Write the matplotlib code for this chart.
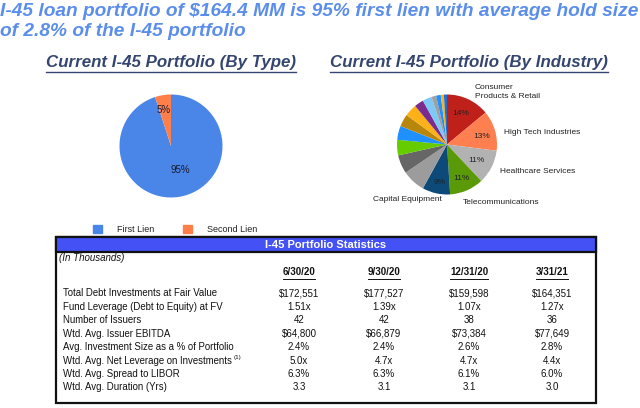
import matplotlib
matplotlib.use("Agg")
import matplotlib.pyplot as plt
from matplotlib.patches import Rectangle
from matplotlib.lines import Line2D

plt.rcParams['font.family'] = ['Liberation Sans', 'DejaVu Sans']

# data
type_labels = ["First Lien", "Second Lien"]
type_values = [95, 5]
type_colors = ["#4A86E8", "#FF7F4A"]

industry_values = [14, 13, 11, 11, 9, 7.5, 6, 5, 4.5, 4, 4, 3, 3, 1.5, 1.5, 1, 1]
industry_colors = ["#C0201A", "#FF7F50", "#B2B2B2", "#5A9A08", "#0D4A7A",
                   "#9C9C9C", "#666666", "#66CC00", "#1E90FF", "#B8860B",
                   "#FBB117", "#7B2A8F", "#7EC8F8", "#A0A0A0", "#1E90FF",
                   "#FBB117", "#1E6FD0"]
industry_pct = ["14%", "13%", "11%", "11%", "9%"]
industry_names = ["Consumer\nProducts & Retail", "High Tech Industries",
                  "Healthcare Services", "Telecommunications", "Capital Equipment"]

dates = ["6/30/20", "9/30/20", "12/31/20", "3/31/21"]
row_labels = ["Total Debt Investments at Fair Value",
              "Fund Leverage (Debt to Equity) at FV",
              "Number of Issuers",
              "Wtd. Avg. Issuer EBITDA",
              "Avg. Investment Size as a % of Portfolio",
              "Wtd. Avg. Net Leverage on Investments",
              "Wtd. Avg. Spread to LIBOR",
              "Wtd. Avg. Duration (Yrs)"]
row_notes = ["", "", "", "", "", "(1)", "", ""]
col_6_30 = ["$172,551", "1.51x", "42", "$64,800", "2.4%", "5.0x", "6.3%", "3.3"]
col_9_30 = ["$177,527", "1.39x", "42", "$66,879", "2.4%", "4.7x", "6.3%", "3.1"]
col_12_31 = ["$159,598", "1.07x", "38", "$73,384", "2.6%", "4.7x", "6.1%", "3.1"]
col_3_31 = ["$164,351", "1.27x", "36", "$77,649", "2.8%", "4.4x", "6.0%", "3.0"]
columns = [col_6_30, col_9_30, col_12_31, col_3_31]

W, H = 640, 408
fig = plt.figure(figsize=(6.4, 4.08), dpi=100)


def fx(x):
    return x / W


def fy(y):
    return 1 - y / H


def fig_extent(t):
    fig.canvas.draw()
    bb = t.get_window_extent()
    inv = fig.transFigure.inverted()
    return inv.transform([(bb.x0, bb.y0), (bb.x1, bb.y1)])


def underline(t, color, lw=1.0, off=2):
    (x0, y0), (x1, y1) = fig_extent(t)
    fig.add_artist(Line2D([x0, x1], [y0 - off / H, y0 - off / H], color=color,
                          lw=lw, transform=fig.transFigure))


def pie_axes(cx, cy, r):
    ax = fig.add_axes([fx(cx - r), fy(cy + r), fx(2 * r), 2 * r / H])
    return ax


# title
title_col = "#5B8EEB"
fig.text(fx(0), fy(12), "I-45 loan portfolio of $164.4 MM is 95% first lien with average hold size",
         color=title_col, fontsize=13.8, fontweight="bold", fontstyle="italic", va="center")
fig.text(fx(0), fy(32), "of 2.8% of the I-45 portfolio",
         color=title_col, fontsize=13.8, fontweight="bold", fontstyle="italic", va="center")

sub_col = "#34466F"
s1 = fig.text(fx(171), fy(62), "Current I-45 Portfolio (By Type)", color=sub_col,
              fontsize=12.2, fontweight="bold", fontstyle="italic", ha="center", va="center")
s2 = fig.text(fx(469), fy(62), "Current I-45 Portfolio (By Industry)", color=sub_col,
              fontsize=12.2, fontweight="bold", fontstyle="italic", ha="center", va="center")
underline(s1, sub_col)
underline(s2, sub_col)

# type pie
ax1 = pie_axes(171, 146, 51.5)
_, _, auto1 = ax1.pie(type_values, colors=type_colors, startangle=90, counterclock=False,
                      autopct="%d%%", textprops={"fontsize": 7, "color": "#1a1a2e"})
auto1[0].set_position((0.19, -0.47))
auto1[1].set_position((-0.14, 0.70))
ax1.set_xlim(-1, 1)
ax1.set_ylim(-1, 1)

# legend
for i, (lab, c) in enumerate(zip(type_labels, type_colors)):
    x = [93, 183][i]
    fig.add_artist(Rectangle((fx(x), fy(233)), fx(9), 8 / H, color=c, transform=fig.transFigure))
    fig.text(fx(x + 24), fy(229), lab, fontsize=6.5, va="center", color="#222222")

# industry pie
ax2 = pie_axes(447, 144.5, 50)
ax2.pie(industry_values, colors=industry_colors, startangle=90, counterclock=False)
ax2.set_xlim(-1, 1)
ax2.set_ylim(-1, 1)
pct_pos = [(0.28, 0.62), (0.7, 0.15), (0.58, -0.33), (0.28, -0.69), (-0.14, -0.77)]
for p, pos in zip(industry_pct, pct_pos):
    ax2.text(pos[0], pos[1], p, fontsize=6, ha="center", va="center", color="#222222")
name_pos = [(475, 92), (504, 132), (500, 171), (463, 203), (373, 199)]
for n, (x, y) in zip(industry_names, name_pos):
    fig.text(fx(x), fy(y), n, fontsize=6, ha="left", va="center", color="#222222",
             linespacing=1.3)

# table
fig.add_artist(Rectangle((fx(56), fy(403)), fx(540), 166 / H, fill=False,
                         ec="#111111", lw=1.6, transform=fig.transFigure))
fig.add_artist(Rectangle((fx(56), fy(252)), fx(540), 15 / H, fc="#4351F5",
                         ec="#111111", lw=1.6, transform=fig.transFigure))
fig.text(fx(326), fy(244.5), "I-45 Portfolio Statistics", color="white",
         fontsize=8, fontweight="bold", ha="center", va="center")
fig.text(fx(59), fy(258), "(In Thousands)", fontsize=7, fontstyle="italic",
         va="center", color="#111111")

col_x = [299, 384, 469, 552]
for d, x in zip(dates, col_x):
    t = fig.text(fx(x), fy(272), d, fontsize=7, fontweight="bold", ha="center",
                 va="center", color="#111111")
    underline(t, "#111111", lw=0.7, off=1.5)

row_y = [293, 307, 320, 334, 347, 361, 374, 387]
for lab, note, y in zip(row_labels, row_notes, row_y):
    t = fig.text(fx(63), fy(y), lab, fontsize=6.9, va="center", color="#111111")
    if note:
        (x0, y0), (x1, y1) = fig_extent(t)
        fig.text(x1 + 2 / W, fy(y - 3), note, fontsize=4.5, va="center", color="#111111")
for col, x in zip(columns, col_x):
    for v, y in zip(col, row_y):
        fig.text(fx(x), fy(y), v, fontsize=7, ha="center",
                 va="center", color="#111111")

fig.savefig("out.png", dpi=100)
